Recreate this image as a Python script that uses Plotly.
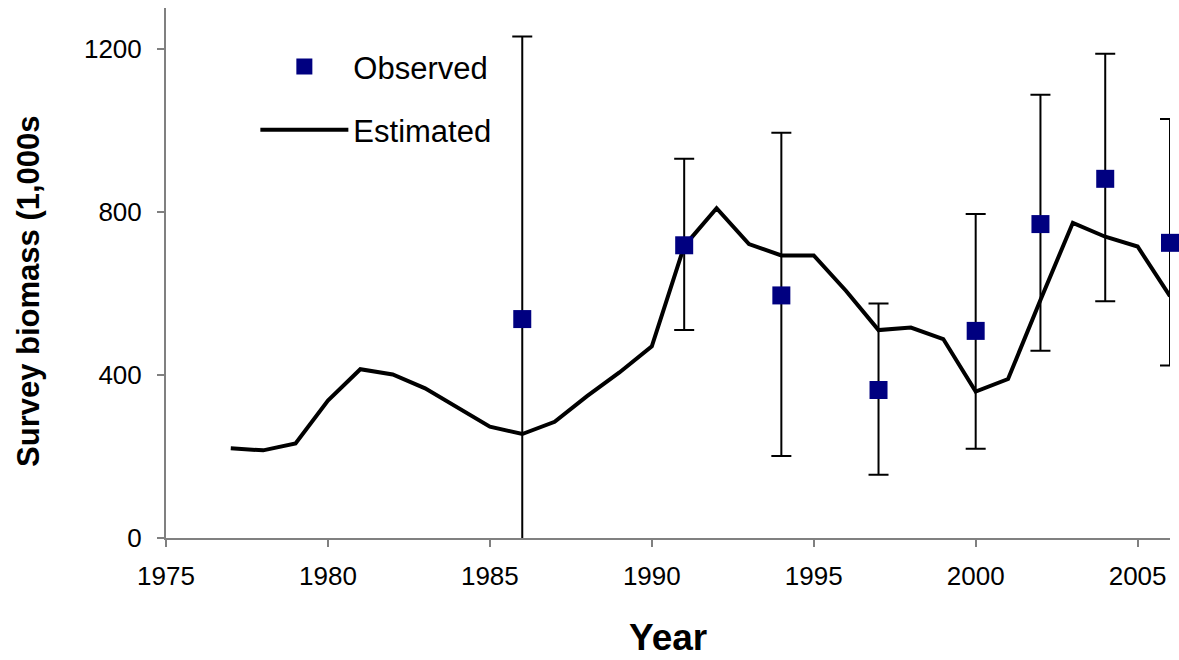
import plotly.graph_objects as go

# Estimated survey biomass (line)
est_years = list(range(1977, 2007))
est_values = [220, 215, 232, 337, 414, 401, 367, 319, 273, 255, 285, 348, 406, 470,
              716, 809, 721, 693, 693, 606, 510, 516, 488, 359, 390, 584, 773, 739, 715, 593]

# Observed survey biomass with error-bar bounds
obs_years = [1986, 1991, 1994, 1997, 2000, 2002, 2004, 2006]
obs_values = [537, 718, 595, 363, 508, 770, 881, 724]
obs_upper = [1230, 930, 994, 575, 795, 1087, 1188, 1028]
obs_lower = [-30, 510, 201, 155, 219, 459, 581, 423]

x_ticks = [1975, 1980, 1985, 1990, 1995, 2000, 2005]
y_ticks = [0, 400, 800, 1200]

FONT = "Liberation Sans, Arial, sans-serif"
NAVY = "#000080"

fig = go.Figure()

fig.add_trace(go.Scatter(
    x=est_years, y=est_values, mode="lines", name="Estimated",
    line=dict(color="black", width=4), legendgroup="b", legendrank=2,
    cliponaxis=False,
))

def err_trace(idx, show, clip):
    xs = [obs_years[i] for i in idx]
    ys = [obs_values[i] for i in idx]
    plus = [obs_upper[i] - obs_values[i] for i in idx]
    minus = [obs_values[i] - obs_lower[i] for i in idx]
    return go.Scatter(
        x=xs, y=ys, mode="markers", name="Observed", showlegend=show,
        legendgroup="a", legendrank=1,
        marker=dict(symbol="square", size=18, color=NAVY),
        error_y=dict(type="data", array=plus, arrayminus=minus, symmetric=False,
                     color="black", thickness=2, width=10),
        cliponaxis=clip,
    )

first = [0]
rest = list(range(1, len(obs_years)))
fig.add_trace(err_trace(first, False, True))
fig.add_trace(err_trace(rest, True, False))

fig.update_layout(
    width=1179, height=660,
    margin=dict(l=166, r=9, t=8, b=122),
    paper_bgcolor="white", plot_bgcolor="white",
    font=dict(family=FONT, color="black"),
    showlegend=True,
    legend=dict(
        x=0.089, y=0.94, xanchor="left", yanchor="top",
        font=dict(family=FONT, size=31, color="black"),
        bgcolor="rgba(0,0,0,0)", traceorder="grouped",
        tracegroupgap=20, itemwidth=88, itemsizing="trace",
    ),
    xaxis=dict(
        range=[1975, 2006], tickvals=x_ticks, ticks="outside", ticklen=7,
        tickcolor="#808080", tickwidth=1.5, showline=True, linecolor="#808080",
        linewidth=2, showgrid=False, zeroline=False,
        tickfont=dict(family=FONT, size=26, color="black"), ticklabelstandoff=7,
    ),
    yaxis=dict(
        range=[0, 1300], tickvals=y_ticks, ticks="outside", ticklen=7,
        tickcolor="#808080", tickwidth=1.5, showline=True, linecolor="#808080",
        linewidth=2, showgrid=False, zeroline=False,
        tickfont=dict(family=FONT, size=26, color="black"), ticklabelstandoff=10,
    ),
    annotations=[
        dict(text="<b>Survey biomass (1,000s</b>", xref="paper", yref="paper",
             x=-0.1375, y=0.466, xanchor="center", yanchor="middle",
             textangle=-90, showarrow=False,
             font=dict(family=FONT, size=31, color="black")),
        dict(text="<b>Year</b>", xref="paper", yref="paper",
             x=0.5, y=-0.187, xanchor="center", yanchor="middle",
             showarrow=False, font=dict(family=FONT, size=37, color="black")),
    ],
)

fig.write_html("out.html")
